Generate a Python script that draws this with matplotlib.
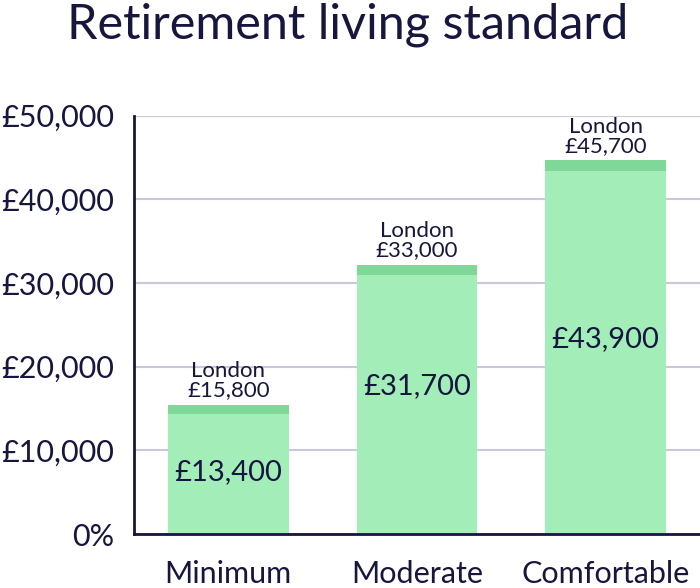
import matplotlib
matplotlib.use("Agg")
import matplotlib.pyplot as plt

plt.rcParams['font.family'] = ['Lato', 'DejaVu Sans']

levels = ["Minimum", "Moderate", "Comfortable"]
national = [13400, 31700, 43900]
london = [15800, 33000, 45700]
# bar heights as drawn in the picture (light part and darker London cap)
bar_base = [14400, 31000, 43400]
bar_top = [15450, 32200, 44700]
y_ticks = [0, 10000, 20000, 30000, 40000, 50000]
y_labels = ["0%", "£10,000", "£20,000", "£30,000", "£40,000", "£50,000"]

navy = "#16163f"
light_green = "#a3eeb8"
dark_green = "#80d898"
grid_col = "#c9c9d9"

fig = plt.figure(figsize=(7, 5.88), dpi=100)
ax = fig.add_axes([0.1914, 0.0918, 0.8086, 0.7114])

x = list(range(len(levels)))
width = 0.64
ax.bar(x, bar_base, width=width, color=light_green, zorder=2)
caps = [t - b for t, b in zip(bar_top, bar_base)]
ax.bar(x, caps, bottom=bar_base, width=width, color=dark_green, zorder=2)

# where the value sits inside each bar
label_y = [7400, 17700, 23300]
for i in x:
    ax.text(i, label_y[i], f"£{national[i]:,}", ha="center", va="center",
            fontsize=21, color=navy, zorder=3)
    ax.text(i, bar_top[i] + 500, f"London\n£{london[i]:,}", ha="center", va="bottom",
            fontsize=16, color=navy, linespacing=0.95, zorder=3)

ax.set_xlim(-0.5, 2.5)
ax.set_ylim(0, 50000)
ax.set_yticks(y_ticks)
ax.set_yticklabels(y_labels)
ax.set_xticks(x)
ax.set_xticklabels(levels)
ax.tick_params(axis="both", length=0, labelsize=22, colors=navy)
ax.tick_params(axis="y", pad=14)
ax.tick_params(axis="x", pad=19)

ax.yaxis.grid(True, color=grid_col, linewidth=1.5, zorder=0)
ax.set_axisbelow(True)
for s in ["top", "right"]:
    ax.spines[s].set_visible(False)
for s in ["left", "bottom"]:
    ax.spines[s].set_color(navy)
    ax.spines[s].set_linewidth(2)
    ax.spines[s].set_zorder(4)

fig.text(0.497, 0.958, "Retirement living standard", ha="center", va="center",
         fontsize=35, color=navy)

fig.savefig("out.png", dpi=100)
